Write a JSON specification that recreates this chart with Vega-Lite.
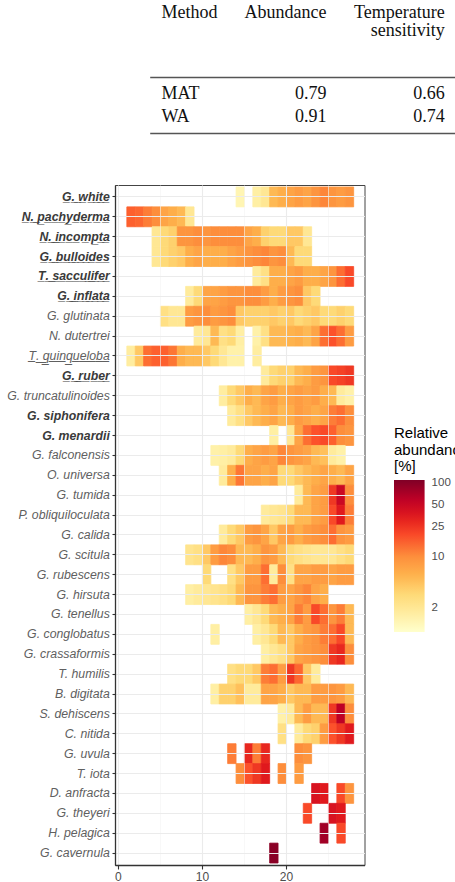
{
  "$schema": "https://vega.github.io/schema/vega-lite/v6.json",
  "padding": {"left": 3, "top": 3, "right": 0, "bottom": 0},
  "background": "white",
  "config": {"view": {"stroke": null}, "font": "Liberation Sans"},
  "spacing": 51,
  "vconcat": [
    {
      "width": 341.4,
      "height": 56,
      "data": {"values": [
        {"Method": "MAT", "Abundance": 0.79, "Temperature sensitivity": 0.66},
        {"Method": "WA", "Abundance": 0.91, "Temperature sensitivity": 0.74}
      ]},
      "transform": [{"fold": ["Method", "Abundance", "Temperature sensitivity"], "as": ["column", "cell"]}],
      "encoding": {
        "y": {"field": "Method", "type": "nominal", "scale": {"type": "point", "domain": ["MAT", "WA"], "padding": 0.667},
              "axis": {"title": null, "labels": false, "ticks": false, "domain": false, "grid": false, "minExtent": 110.6, "maxExtent": 110.6}}
      },
      "layer": [
        {
          "transform": [{"filter": "datum.column == 'Method'"}],
          "mark": {"type": "text", "align": "left", "baseline": "alphabetic", "dy": 5.5, "font": "Liberation Serif", "fontSize": 18, "color": "#111"},
          "encoding": {
            "x": {"field": "column", "type": "nominal", "bandPosition": 0,
                  "scale": {"type": "band", "domain": ["Method", "Abundance", "Temperature sensitivity"], "range": [34.7, 341.4], "paddingInner": 0.605, "paddingOuter": 0.099},
                  "axis": {"orient": "top", "title": null, "grid": false, "ticks": false, "tickSize": 0, "domain": true, "domainColor": "#555", "domainWidth": 1.6,
                           "labelFont": "Liberation Serif", "labelFontSize": 18, "labelColor": "#111", "labelPadding": 74, "labelBaseline": "top",
                           "labelLineHeight": 18, "labelLimit": 0, "labelOverlap": false, "labelBound": false, "labelFlush": false, "labelAngle": 0,
                           "labelAlign": {"condition": {"test": "datum.value == 'Method'", "value": "left"}, "value": "right"},
                           "labelOffset": {"condition": {"test": "datum.value == 'Method'", "value": -23.35}, "value": 23.35},
                           "labelExpr": "datum.value == 'Temperature sensitivity' ? ['Temperature', 'sensitivity'] : datum.value"}},
            "text": {"field": "cell", "type": "nominal"}
          }
        },
        {
          "transform": [{"filter": "datum.column != 'Method'"}],
          "mark": {"type": "text", "align": "right", "baseline": "alphabetic", "dy": 5.5, "font": "Liberation Serif", "fontSize": 18, "color": "#111"},
          "encoding": {
            "x": {"field": "column", "type": "nominal", "bandPosition": 1,
                  "scale": {"type": "band", "domain": ["Method", "Abundance", "Temperature sensitivity"], "range": [34.7, 341.4], "paddingInner": 0.605, "paddingOuter": 0.099},
                  "axis": {"orient": "bottom", "title": null, "grid": false, "ticks": false, "labels": false, "domain": true, "domainColor": "#555", "domainWidth": 1.6}},
            "text": {"field": "cell", "type": "quantitative", "format": ".2f"}
          }
        }
      ],
      "resolve": {"axis": {"x": "independent"}}
    },
    {
      "width": 249.5,
      "height": 680,
      "view": {"stroke": "#444", "strokeWidth": 1},
      "data": {"values": [
        {"species": "G. white", "temp": 14, "abundance": 1.3},
        {"species": "G. white", "temp": 16, "abundance": 1.6},
        {"species": "G. white", "temp": 17, "abundance": 2.0},
        {"species": "G. white", "temp": 18, "abundance": 5},
        {"species": "G. white", "temp": 19, "abundance": 6},
        {"species": "G. white", "temp": 20, "abundance": 7},
        {"species": "G. white", "temp": 21, "abundance": 8},
        {"species": "G. white", "temp": 22, "abundance": 7},
        {"species": "G. white", "temp": 23, "abundance": 9},
        {"species": "G. white", "temp": 24, "abundance": 11},
        {"species": "G. white", "temp": 25, "abundance": 9},
        {"species": "G. white", "temp": 26, "abundance": 8},
        {"species": "G. white", "temp": 27, "abundance": 9},
        {"species": "N. pachyderma", "temp": 1, "abundance": 16},
        {"species": "N. pachyderma", "temp": 2, "abundance": 15},
        {"species": "N. pachyderma", "temp": 3, "abundance": 12},
        {"species": "N. pachyderma", "temp": 4, "abundance": 10},
        {"species": "N. pachyderma", "temp": 5, "abundance": 7},
        {"species": "N. pachyderma", "temp": 6, "abundance": 6},
        {"species": "N. pachyderma", "temp": 7, "abundance": 5},
        {"species": "N. pachyderma", "temp": 8, "abundance": 2},
        {"species": "N. incompta", "temp": 4, "abundance": 2},
        {"species": "N. incompta", "temp": 5, "abundance": 3},
        {"species": "N. incompta", "temp": 6, "abundance": 3.5},
        {"species": "N. incompta", "temp": 7, "abundance": 9},
        {"species": "N. incompta", "temp": 8, "abundance": 9},
        {"species": "N. incompta", "temp": 9, "abundance": 10},
        {"species": "N. incompta", "temp": 10, "abundance": 9},
        {"species": "N. incompta", "temp": 11, "abundance": 10},
        {"species": "N. incompta", "temp": 12, "abundance": 10},
        {"species": "N. incompta", "temp": 13, "abundance": 10},
        {"species": "N. incompta", "temp": 14, "abundance": 10},
        {"species": "N. incompta", "temp": 15, "abundance": 7},
        {"species": "N. incompta", "temp": 16, "abundance": 6},
        {"species": "N. incompta", "temp": 17, "abundance": 3.5},
        {"species": "N. incompta", "temp": 18, "abundance": 3},
        {"species": "N. incompta", "temp": 19, "abundance": 3},
        {"species": "N. incompta", "temp": 20, "abundance": 4},
        {"species": "N. incompta", "temp": 21, "abundance": 4},
        {"species": "N. incompta", "temp": 22, "abundance": 2},
        {"species": "G. bulloides", "temp": 4, "abundance": 2},
        {"species": "G. bulloides", "temp": 5, "abundance": 3},
        {"species": "G. bulloides", "temp": 6, "abundance": 3.5},
        {"species": "G. bulloides", "temp": 7, "abundance": 4},
        {"species": "G. bulloides", "temp": 8, "abundance": 6},
        {"species": "G. bulloides", "temp": 9, "abundance": 7},
        {"species": "G. bulloides", "temp": 10, "abundance": 6},
        {"species": "G. bulloides", "temp": 11, "abundance": 6},
        {"species": "G. bulloides", "temp": 12, "abundance": 6},
        {"species": "G. bulloides", "temp": 13, "abundance": 7},
        {"species": "G. bulloides", "temp": 14, "abundance": 8},
        {"species": "G. bulloides", "temp": 15, "abundance": 9},
        {"species": "G. bulloides", "temp": 16, "abundance": 10},
        {"species": "G. bulloides", "temp": 17, "abundance": 11},
        {"species": "G. bulloides", "temp": 18, "abundance": 9},
        {"species": "G. bulloides", "temp": 19, "abundance": 10},
        {"species": "G. bulloides", "temp": 20, "abundance": 5},
        {"species": "G. bulloides", "temp": 21, "abundance": 3},
        {"species": "G. bulloides", "temp": 22, "abundance": 3},
        {"species": "T. sacculifer", "temp": 16, "abundance": 1.8},
        {"species": "T. sacculifer", "temp": 17, "abundance": 2.5},
        {"species": "T. sacculifer", "temp": 18, "abundance": 6},
        {"species": "T. sacculifer", "temp": 19, "abundance": 6},
        {"species": "T. sacculifer", "temp": 20, "abundance": 7},
        {"species": "T. sacculifer", "temp": 21, "abundance": 8},
        {"species": "T. sacculifer", "temp": 22, "abundance": 6},
        {"species": "T. sacculifer", "temp": 23, "abundance": 6},
        {"species": "T. sacculifer", "temp": 24, "abundance": 7},
        {"species": "T. sacculifer", "temp": 25, "abundance": 9},
        {"species": "T. sacculifer", "temp": 26, "abundance": 14},
        {"species": "T. sacculifer", "temp": 27, "abundance": 20},
        {"species": "G. inflata", "temp": 8, "abundance": 1.8},
        {"species": "G. inflata", "temp": 9, "abundance": 3},
        {"species": "G. inflata", "temp": 10, "abundance": 7},
        {"species": "G. inflata", "temp": 11, "abundance": 7},
        {"species": "G. inflata", "temp": 12, "abundance": 8},
        {"species": "G. inflata", "temp": 13, "abundance": 9},
        {"species": "G. inflata", "temp": 14, "abundance": 9},
        {"species": "G. inflata", "temp": 15, "abundance": 10},
        {"species": "G. inflata", "temp": 16, "abundance": 10},
        {"species": "G. inflata", "temp": 17, "abundance": 8},
        {"species": "G. inflata", "temp": 18, "abundance": 6},
        {"species": "G. inflata", "temp": 19, "abundance": 8},
        {"species": "G. inflata", "temp": 20, "abundance": 9},
        {"species": "G. inflata", "temp": 21, "abundance": 10},
        {"species": "G. inflata", "temp": 22, "abundance": 4},
        {"species": "G. inflata", "temp": 23, "abundance": 3},
        {"species": "G. glutinata", "temp": 5, "abundance": 2.5},
        {"species": "G. glutinata", "temp": 6, "abundance": 2},
        {"species": "G. glutinata", "temp": 7, "abundance": 2},
        {"species": "G. glutinata", "temp": 8, "abundance": 8},
        {"species": "G. glutinata", "temp": 9, "abundance": 9},
        {"species": "G. glutinata", "temp": 10, "abundance": 10},
        {"species": "G. glutinata", "temp": 11, "abundance": 8},
        {"species": "G. glutinata", "temp": 12, "abundance": 9},
        {"species": "G. glutinata", "temp": 13, "abundance": 10},
        {"species": "G. glutinata", "temp": 14, "abundance": 4},
        {"species": "G. glutinata", "temp": 15, "abundance": 3.5},
        {"species": "G. glutinata", "temp": 16, "abundance": 3.5},
        {"species": "G. glutinata", "temp": 17, "abundance": 3.5},
        {"species": "G. glutinata", "temp": 18, "abundance": 4},
        {"species": "G. glutinata", "temp": 19, "abundance": 3.5},
        {"species": "G. glutinata", "temp": 20, "abundance": 4},
        {"species": "G. glutinata", "temp": 21, "abundance": 3},
        {"species": "G. glutinata", "temp": 22, "abundance": 3.5},
        {"species": "G. glutinata", "temp": 23, "abundance": 4},
        {"species": "G. glutinata", "temp": 24, "abundance": 3},
        {"species": "G. glutinata", "temp": 25, "abundance": 3},
        {"species": "G. glutinata", "temp": 26, "abundance": 3.5},
        {"species": "G. glutinata", "temp": 27, "abundance": 3},
        {"species": "N. dutertrei", "temp": 9, "abundance": 1.8},
        {"species": "N. dutertrei", "temp": 10, "abundance": 2},
        {"species": "N. dutertrei", "temp": 11, "abundance": 5},
        {"species": "N. dutertrei", "temp": 12, "abundance": 2.5},
        {"species": "N. dutertrei", "temp": 13, "abundance": 3},
        {"species": "N. dutertrei", "temp": 14, "abundance": 1.6},
        {"species": "N. dutertrei", "temp": 16, "abundance": 1.5},
        {"species": "N. dutertrei", "temp": 17, "abundance": 2.5},
        {"species": "N. dutertrei", "temp": 18, "abundance": 5},
        {"species": "N. dutertrei", "temp": 19, "abundance": 5},
        {"species": "N. dutertrei", "temp": 20, "abundance": 5.5},
        {"species": "N. dutertrei", "temp": 21, "abundance": 6},
        {"species": "N. dutertrei", "temp": 22, "abundance": 5},
        {"species": "N. dutertrei", "temp": 23, "abundance": 7},
        {"species": "N. dutertrei", "temp": 24, "abundance": 14},
        {"species": "N. dutertrei", "temp": 25, "abundance": 18},
        {"species": "N. dutertrei", "temp": 26, "abundance": 14},
        {"species": "N. dutertrei", "temp": 27, "abundance": 8},
        {"species": "T. quinqueloba", "temp": 1, "abundance": 1.7},
        {"species": "T. quinqueloba", "temp": 2, "abundance": 4},
        {"species": "T. quinqueloba", "temp": 3, "abundance": 14},
        {"species": "T. quinqueloba", "temp": 4, "abundance": 16},
        {"species": "T. quinqueloba", "temp": 5, "abundance": 16},
        {"species": "T. quinqueloba", "temp": 6, "abundance": 13},
        {"species": "T. quinqueloba", "temp": 7, "abundance": 6},
        {"species": "T. quinqueloba", "temp": 8, "abundance": 5},
        {"species": "T. quinqueloba", "temp": 9, "abundance": 5},
        {"species": "T. quinqueloba", "temp": 10, "abundance": 4},
        {"species": "T. quinqueloba", "temp": 11, "abundance": 3},
        {"species": "T. quinqueloba", "temp": 12, "abundance": 2},
        {"species": "T. quinqueloba", "temp": 13, "abundance": 1.5},
        {"species": "T. quinqueloba", "temp": 14, "abundance": 1.5},
        {"species": "T. quinqueloba", "temp": 16, "abundance": 1.7},
        {"species": "G. ruber", "temp": 17, "abundance": 1.8},
        {"species": "G. ruber", "temp": 18, "abundance": 3},
        {"species": "G. ruber", "temp": 19, "abundance": 3.5},
        {"species": "G. ruber", "temp": 20, "abundance": 3.5},
        {"species": "G. ruber", "temp": 21, "abundance": 5},
        {"species": "G. ruber", "temp": 22, "abundance": 6},
        {"species": "G. ruber", "temp": 23, "abundance": 8},
        {"species": "G. ruber", "temp": 24, "abundance": 9},
        {"species": "G. ruber", "temp": 25, "abundance": 20},
        {"species": "G. ruber", "temp": 26, "abundance": 22},
        {"species": "G. ruber", "temp": 27, "abundance": 25},
        {"species": "G. truncatulinoides", "temp": 12, "abundance": 1.7},
        {"species": "G. truncatulinoides", "temp": 13, "abundance": 3},
        {"species": "G. truncatulinoides", "temp": 14, "abundance": 4},
        {"species": "G. truncatulinoides", "temp": 15, "abundance": 6},
        {"species": "G. truncatulinoides", "temp": 16, "abundance": 5},
        {"species": "G. truncatulinoides", "temp": 17, "abundance": 7},
        {"species": "G. truncatulinoides", "temp": 18, "abundance": 8},
        {"species": "G. truncatulinoides", "temp": 19, "abundance": 6},
        {"species": "G. truncatulinoides", "temp": 20, "abundance": 7},
        {"species": "G. truncatulinoides", "temp": 21, "abundance": 8},
        {"species": "G. truncatulinoides", "temp": 22, "abundance": 7},
        {"species": "G. truncatulinoides", "temp": 23, "abundance": 8},
        {"species": "G. truncatulinoides", "temp": 24, "abundance": 6},
        {"species": "G. truncatulinoides", "temp": 25, "abundance": 5},
        {"species": "G. truncatulinoides", "temp": 26, "abundance": 1.8},
        {"species": "G. truncatulinoides", "temp": 27, "abundance": 1.5},
        {"species": "G. siphonifera", "temp": 13, "abundance": 1.8},
        {"species": "G. siphonifera", "temp": 14, "abundance": 2.5},
        {"species": "G. siphonifera", "temp": 15, "abundance": 4},
        {"species": "G. siphonifera", "temp": 16, "abundance": 5},
        {"species": "G. siphonifera", "temp": 17, "abundance": 6},
        {"species": "G. siphonifera", "temp": 18, "abundance": 7},
        {"species": "G. siphonifera", "temp": 19, "abundance": 5},
        {"species": "G. siphonifera", "temp": 20, "abundance": 6},
        {"species": "G. siphonifera", "temp": 21, "abundance": 8},
        {"species": "G. siphonifera", "temp": 22, "abundance": 7},
        {"species": "G. siphonifera", "temp": 23, "abundance": 6},
        {"species": "G. siphonifera", "temp": 24, "abundance": 7},
        {"species": "G. siphonifera", "temp": 25, "abundance": 12},
        {"species": "G. siphonifera", "temp": 26, "abundance": 14},
        {"species": "G. siphonifera", "temp": 27, "abundance": 10},
        {"species": "G. menardii", "temp": 18, "abundance": 1.6},
        {"species": "G. menardii", "temp": 20, "abundance": 2},
        {"species": "G. menardii", "temp": 21, "abundance": 7},
        {"species": "G. menardii", "temp": 22, "abundance": 14},
        {"species": "G. menardii", "temp": 23, "abundance": 18},
        {"species": "G. menardii", "temp": 24, "abundance": 20},
        {"species": "G. menardii", "temp": 25, "abundance": 16},
        {"species": "G. menardii", "temp": 26, "abundance": 10},
        {"species": "G. menardii", "temp": 27, "abundance": 9},
        {"species": "G. falconensis", "temp": 11, "abundance": 1.5},
        {"species": "G. falconensis", "temp": 12, "abundance": 1.6},
        {"species": "G. falconensis", "temp": 13, "abundance": 1.8},
        {"species": "G. falconensis", "temp": 14, "abundance": 3},
        {"species": "G. falconensis", "temp": 15, "abundance": 6},
        {"species": "G. falconensis", "temp": 16, "abundance": 7},
        {"species": "G. falconensis", "temp": 17, "abundance": 8},
        {"species": "G. falconensis", "temp": 18, "abundance": 7},
        {"species": "G. falconensis", "temp": 19, "abundance": 11},
        {"species": "G. falconensis", "temp": 20, "abundance": 9},
        {"species": "G. falconensis", "temp": 21, "abundance": 8},
        {"species": "G. falconensis", "temp": 22, "abundance": 7},
        {"species": "G. falconensis", "temp": 23, "abundance": 5},
        {"species": "G. falconensis", "temp": 24, "abundance": 4.5},
        {"species": "G. falconensis", "temp": 25, "abundance": 1.8},
        {"species": "G. falconensis", "temp": 26, "abundance": 1.5},
        {"species": "O. universa", "temp": 12, "abundance": 1.8},
        {"species": "O. universa", "temp": 13, "abundance": 6},
        {"species": "O. universa", "temp": 14, "abundance": 13},
        {"species": "O. universa", "temp": 15, "abundance": 7},
        {"species": "O. universa", "temp": 16, "abundance": 7},
        {"species": "O. universa", "temp": 17, "abundance": 6},
        {"species": "O. universa", "temp": 18, "abundance": 7},
        {"species": "O. universa", "temp": 19, "abundance": 3},
        {"species": "O. universa", "temp": 20, "abundance": 3},
        {"species": "O. universa", "temp": 21, "abundance": 4},
        {"species": "O. universa", "temp": 22, "abundance": 5},
        {"species": "O. universa", "temp": 23, "abundance": 6},
        {"species": "O. universa", "temp": 24, "abundance": 7},
        {"species": "O. universa", "temp": 25, "abundance": 6},
        {"species": "O. universa", "temp": 26, "abundance": 5},
        {"species": "O. universa", "temp": 27, "abundance": 7},
        {"species": "G. tumida", "temp": 21, "abundance": 1.8},
        {"species": "G. tumida", "temp": 22, "abundance": 5},
        {"species": "G. tumida", "temp": 23, "abundance": 7},
        {"species": "G. tumida", "temp": 24, "abundance": 8},
        {"species": "G. tumida", "temp": 25, "abundance": 25},
        {"species": "G. tumida", "temp": 26, "abundance": 50},
        {"species": "G. tumida", "temp": 27, "abundance": 10},
        {"species": "P. obliquiloculata", "temp": 17, "abundance": 1.8},
        {"species": "P. obliquiloculata", "temp": 18, "abundance": 2},
        {"species": "P. obliquiloculata", "temp": 19, "abundance": 2.2},
        {"species": "P. obliquiloculata", "temp": 20, "abundance": 3},
        {"species": "P. obliquiloculata", "temp": 21, "abundance": 5},
        {"species": "P. obliquiloculata", "temp": 22, "abundance": 5},
        {"species": "P. obliquiloculata", "temp": 23, "abundance": 7},
        {"species": "P. obliquiloculata", "temp": 24, "abundance": 8},
        {"species": "P. obliquiloculata", "temp": 25, "abundance": 20},
        {"species": "P. obliquiloculata", "temp": 26, "abundance": 35},
        {"species": "P. obliquiloculata", "temp": 27, "abundance": 12},
        {"species": "G. calida", "temp": 12, "abundance": 1.8},
        {"species": "G. calida", "temp": 13, "abundance": 3},
        {"species": "G. calida", "temp": 14, "abundance": 4},
        {"species": "G. calida", "temp": 15, "abundance": 8},
        {"species": "G. calida", "temp": 16, "abundance": 9},
        {"species": "G. calida", "temp": 17, "abundance": 7},
        {"species": "G. calida", "temp": 18, "abundance": 4},
        {"species": "G. calida", "temp": 19, "abundance": 7},
        {"species": "G. calida", "temp": 20, "abundance": 8},
        {"species": "G. calida", "temp": 21, "abundance": 6},
        {"species": "G. calida", "temp": 22, "abundance": 8},
        {"species": "G. calida", "temp": 23, "abundance": 9},
        {"species": "G. calida", "temp": 24, "abundance": 10},
        {"species": "G. calida", "temp": 25, "abundance": 14},
        {"species": "G. calida", "temp": 26, "abundance": 9},
        {"species": "G. calida", "temp": 27, "abundance": 8},
        {"species": "G. scitula", "temp": 8, "abundance": 2.2},
        {"species": "G. scitula", "temp": 9, "abundance": 2.5},
        {"species": "G. scitula", "temp": 10, "abundance": 4},
        {"species": "G. scitula", "temp": 11, "abundance": 8},
        {"species": "G. scitula", "temp": 12, "abundance": 11},
        {"species": "G. scitula", "temp": 13, "abundance": 10},
        {"species": "G. scitula", "temp": 14, "abundance": 5},
        {"species": "G. scitula", "temp": 15, "abundance": 5},
        {"species": "G. scitula", "temp": 16, "abundance": 6},
        {"species": "G. scitula", "temp": 17, "abundance": 9},
        {"species": "G. scitula", "temp": 18, "abundance": 8},
        {"species": "G. scitula", "temp": 19, "abundance": 5},
        {"species": "G. scitula", "temp": 20, "abundance": 3},
        {"species": "G. scitula", "temp": 21, "abundance": 2.5},
        {"species": "G. scitula", "temp": 22, "abundance": 2.2},
        {"species": "G. scitula", "temp": 23, "abundance": 2},
        {"species": "G. scitula", "temp": 24, "abundance": 2},
        {"species": "G. scitula", "temp": 25, "abundance": 2},
        {"species": "G. scitula", "temp": 26, "abundance": 2.5},
        {"species": "G. scitula", "temp": 27, "abundance": 3},
        {"species": "G. rubescens", "temp": 10, "abundance": 3},
        {"species": "G. rubescens", "temp": 13, "abundance": 2.5},
        {"species": "G. rubescens", "temp": 14, "abundance": 4},
        {"species": "G. rubescens", "temp": 15, "abundance": 8},
        {"species": "G. rubescens", "temp": 16, "abundance": 8},
        {"species": "G. rubescens", "temp": 17, "abundance": 14},
        {"species": "G. rubescens", "temp": 18, "abundance": 1.8},
        {"species": "G. rubescens", "temp": 19, "abundance": 10},
        {"species": "G. rubescens", "temp": 20, "abundance": 2.5},
        {"species": "G. rubescens", "temp": 21, "abundance": 7},
        {"species": "G. rubescens", "temp": 22, "abundance": 7},
        {"species": "G. rubescens", "temp": 23, "abundance": 8},
        {"species": "G. rubescens", "temp": 24, "abundance": 8},
        {"species": "G. rubescens", "temp": 25, "abundance": 7},
        {"species": "G. rubescens", "temp": 26, "abundance": 8},
        {"species": "G. rubescens", "temp": 27, "abundance": 8},
        {"species": "G. hirsuta", "temp": 8, "abundance": 1.6},
        {"species": "G. hirsuta", "temp": 9, "abundance": 1.8},
        {"species": "G. hirsuta", "temp": 10, "abundance": 2},
        {"species": "G. hirsuta", "temp": 11, "abundance": 2.2},
        {"species": "G. hirsuta", "temp": 12, "abundance": 2.5},
        {"species": "G. hirsuta", "temp": 13, "abundance": 3},
        {"species": "G. hirsuta", "temp": 14, "abundance": 5},
        {"species": "G. hirsuta", "temp": 15, "abundance": 9},
        {"species": "G. hirsuta", "temp": 16, "abundance": 9},
        {"species": "G. hirsuta", "temp": 17, "abundance": 12},
        {"species": "G. hirsuta", "temp": 18, "abundance": 14},
        {"species": "G. hirsuta", "temp": 19, "abundance": 8},
        {"species": "G. hirsuta", "temp": 20, "abundance": 7},
        {"species": "G. hirsuta", "temp": 21, "abundance": 9},
        {"species": "G. hirsuta", "temp": 22, "abundance": 11},
        {"species": "G. hirsuta", "temp": 23, "abundance": 7},
        {"species": "G. hirsuta", "temp": 24, "abundance": 6},
        {"species": "G. tenellus", "temp": 15, "abundance": 1.6},
        {"species": "G. tenellus", "temp": 16, "abundance": 2},
        {"species": "G. tenellus", "temp": 17, "abundance": 3},
        {"species": "G. tenellus", "temp": 18, "abundance": 5},
        {"species": "G. tenellus", "temp": 19, "abundance": 6},
        {"species": "G. tenellus", "temp": 20, "abundance": 7},
        {"species": "G. tenellus", "temp": 21, "abundance": 12},
        {"species": "G. tenellus", "temp": 22, "abundance": 8},
        {"species": "G. tenellus", "temp": 23, "abundance": 20},
        {"species": "G. tenellus", "temp": 24, "abundance": 14},
        {"species": "G. tenellus", "temp": 25, "abundance": 9},
        {"species": "G. tenellus", "temp": 26, "abundance": 12},
        {"species": "G. tenellus", "temp": 27, "abundance": 5},
        {"species": "G. conglobatus", "temp": 11, "abundance": 1.6},
        {"species": "G. conglobatus", "temp": 16, "abundance": 1.6},
        {"species": "G. conglobatus", "temp": 17, "abundance": 2},
        {"species": "G. conglobatus", "temp": 18, "abundance": 3},
        {"species": "G. conglobatus", "temp": 19, "abundance": 5},
        {"species": "G. conglobatus", "temp": 20, "abundance": 4},
        {"species": "G. conglobatus", "temp": 21, "abundance": 6},
        {"species": "G. conglobatus", "temp": 22, "abundance": 8},
        {"species": "G. conglobatus", "temp": 23, "abundance": 9},
        {"species": "G. conglobatus", "temp": 24, "abundance": 12},
        {"species": "G. conglobatus", "temp": 25, "abundance": 14},
        {"species": "G. conglobatus", "temp": 26, "abundance": 20},
        {"species": "G. conglobatus", "temp": 27, "abundance": 5},
        {"species": "G. crassaformis", "temp": 17, "abundance": 1.6},
        {"species": "G. crassaformis", "temp": 18, "abundance": 2},
        {"species": "G. crassaformis", "temp": 19, "abundance": 2.5},
        {"species": "G. crassaformis", "temp": 20, "abundance": 4},
        {"species": "G. crassaformis", "temp": 21, "abundance": 7},
        {"species": "G. crassaformis", "temp": 22, "abundance": 8},
        {"species": "G. crassaformis", "temp": 23, "abundance": 9},
        {"species": "G. crassaformis", "temp": 24, "abundance": 10},
        {"species": "G. crassaformis", "temp": 25, "abundance": 25},
        {"species": "G. crassaformis", "temp": 26, "abundance": 30},
        {"species": "G. crassaformis", "temp": 27, "abundance": 10},
        {"species": "T. humilis", "temp": 13, "abundance": 2.5},
        {"species": "T. humilis", "temp": 14, "abundance": 3},
        {"species": "T. humilis", "temp": 15, "abundance": 3},
        {"species": "T. humilis", "temp": 16, "abundance": 4},
        {"species": "T. humilis", "temp": 17, "abundance": 12},
        {"species": "T. humilis", "temp": 18, "abundance": 14},
        {"species": "T. humilis", "temp": 19, "abundance": 8},
        {"species": "T. humilis", "temp": 20, "abundance": 25},
        {"species": "T. humilis", "temp": 21, "abundance": 15},
        {"species": "T. humilis", "temp": 22, "abundance": 4},
        {"species": "T. humilis", "temp": 23, "abundance": 1.8},
        {"species": "B. digitata", "temp": 11, "abundance": 1.6},
        {"species": "B. digitata", "temp": 12, "abundance": 3.5},
        {"species": "B. digitata", "temp": 13, "abundance": 3.5},
        {"species": "B. digitata", "temp": 14, "abundance": 4.5},
        {"species": "B. digitata", "temp": 15, "abundance": 1.8},
        {"species": "B. digitata", "temp": 16, "abundance": 1.8},
        {"species": "B. digitata", "temp": 17, "abundance": 7},
        {"species": "B. digitata", "temp": 18, "abundance": 7},
        {"species": "B. digitata", "temp": 19, "abundance": 6},
        {"species": "B. digitata", "temp": 20, "abundance": 4},
        {"species": "B. digitata", "temp": 21, "abundance": 5},
        {"species": "B. digitata", "temp": 22, "abundance": 5},
        {"species": "B. digitata", "temp": 23, "abundance": 8},
        {"species": "B. digitata", "temp": 24, "abundance": 8},
        {"species": "B. digitata", "temp": 25, "abundance": 9},
        {"species": "B. digitata", "temp": 26, "abundance": 8},
        {"species": "B. digitata", "temp": 27, "abundance": 5},
        {"species": "S. dehiscens", "temp": 19, "abundance": 1.5},
        {"species": "S. dehiscens", "temp": 20, "abundance": 1.8},
        {"species": "S. dehiscens", "temp": 21, "abundance": 5},
        {"species": "S. dehiscens", "temp": 22, "abundance": 8},
        {"species": "S. dehiscens", "temp": 23, "abundance": 5},
        {"species": "S. dehiscens", "temp": 24, "abundance": 5},
        {"species": "S. dehiscens", "temp": 25, "abundance": 25},
        {"species": "S. dehiscens", "temp": 26, "abundance": 60},
        {"species": "S. dehiscens", "temp": 27, "abundance": 10},
        {"species": "C. nitida", "temp": 19, "abundance": 2.5},
        {"species": "C. nitida", "temp": 21, "abundance": 1.8},
        {"species": "C. nitida", "temp": 22, "abundance": 3},
        {"species": "C. nitida", "temp": 23, "abundance": 3.5},
        {"species": "C. nitida", "temp": 24, "abundance": 8},
        {"species": "C. nitida", "temp": 25, "abundance": 18},
        {"species": "C. nitida", "temp": 26, "abundance": 25},
        {"species": "C. nitida", "temp": 27, "abundance": 35},
        {"species": "G. uvula", "temp": 13, "abundance": 12},
        {"species": "G. uvula", "temp": 15, "abundance": 30},
        {"species": "G. uvula", "temp": 16, "abundance": 12},
        {"species": "G. uvula", "temp": 17, "abundance": 30},
        {"species": "G. uvula", "temp": 21, "abundance": 10},
        {"species": "G. uvula", "temp": 22, "abundance": 9},
        {"species": "T. iota", "temp": 14, "abundance": 10},
        {"species": "T. iota", "temp": 15, "abundance": 18},
        {"species": "T. iota", "temp": 16, "abundance": 25},
        {"species": "T. iota", "temp": 17, "abundance": 35},
        {"species": "T. iota", "temp": 19, "abundance": 10},
        {"species": "T. iota", "temp": 21, "abundance": 8},
        {"species": "D. anfracta", "temp": 23, "abundance": 40},
        {"species": "D. anfracta", "temp": 24, "abundance": 35},
        {"species": "D. anfracta", "temp": 26, "abundance": 20},
        {"species": "D. anfracta", "temp": 27, "abundance": 9},
        {"species": "G. theyeri", "temp": 22, "abundance": 20},
        {"species": "G. theyeri", "temp": 25, "abundance": 40},
        {"species": "G. theyeri", "temp": 26, "abundance": 35},
        {"species": "H. pelagica", "temp": 24, "abundance": 80},
        {"species": "H. pelagica", "temp": 26, "abundance": 20},
        {"species": "G. cavernula", "temp": 18, "abundance": 100}
      ]},
      "mark": {"type": "rect", "binSpacing": 0, "strokeWidth": 0.8, "stroke": {"expr": "scale('color', datum.abundance)"}},
      "encoding": {
        "x": {"field": "temp", "type": "quantitative", "bin": {"binned": true, "step": 1},
              "scale": {"domain": [-0.35, 29.35], "nice": false, "zero": false},
              "axis": {"title": null, "values": [0, 5, 10, 15, 20, 25], "labelExpr": "datum.value % 10 === 0 ? datum.label : ''",
                       "grid": true, "gridColor": {"condition": {"test": "datum.value % 10 === 0", "value": "#ebebeb"}, "value": "#f4f4f4"},
                       "gridWidth": {"condition": {"test": "datum.value % 10 === 0", "value": 1.1}, "value": 0.6},
                       "tickColor": {"condition": {"test": "datum.value % 10 === 0", "value": "#333"}, "value": "transparent"},
                       "tickSize": 4, "tickWidth": 1.1, "labelFontSize": 12, "labelColor": "#4d4d4d", "labelFont": "Liberation Sans",
                       "labelPadding": 2, "labelFlush": false, "domainColor": "#333", "domainWidth": 1.3}},
        "y": {"field": "species", "type": "nominal",
              "scale": {"domain": ["G. white", "N. pachyderma", "N. incompta", "G. bulloides", "T. sacculifer", "G. inflata", "G. glutinata", "N. dutertrei", "T. quinqueloba", "G. ruber", "G. truncatulinoides", "G. siphonifera", "G. menardii", "G. falconensis", "O. universa", "G. tumida", "P. obliquiloculata", "G. calida", "G. scitula", "G. rubescens", "G. hirsuta", "G. tenellus", "G. conglobatus", "G. crassaformis", "T. humilis", "B. digitata", "S. dehiscens", "C. nitida", "G. uvula", "T. iota", "D. anfracta", "G. theyeri", "H. pelagica", "G. cavernula"],
                        "paddingInner": 0, "paddingOuter": 0.1},
              "axis": {"title": null, "grid": true, "gridColor": "#ebebeb", "gridWidth": 1, "tickSize": 3, "tickColor": "#333", "tickWidth": 1.1,
                       "domainColor": "#333", "domainWidth": 1.3, "labelFont": "Liberation Sans", "labelFontSize": 12.3, "labelFontStyle": "italic",
                       "labelPadding": 2.7, "labelLimit": 0, "minExtent": 110.6, "maxExtent": 110.6,
                       "labelExpr": "indexof(['G. white','N. pachyderma','N. incompta','G. bulloides','T. sacculifer','G. inflata','T. quinqueloba','G. ruber'], datum.value) >= 0 ? replace(datum.value, regexp('(.)', 'g'), '$1\u0332') : datum.value",
                       "labelFontWeight": {"condition": {"test": "indexof(['G. white','N. pachyderma','N. incompta','G. bulloides','T. sacculifer','G. inflata','G. ruber','G. siphonifera','G. menardii'], datum.value) >= 0", "value": "bold"}, "value": "normal"},
                       "labelColor": {"condition": {"test": "indexof(['G. white','N. pachyderma','N. incompta','G. bulloides','T. sacculifer','G. inflata','G. ruber','G. siphonifera','G. menardii'], datum.value) >= 0", "value": "#3a3a3a"}, "value": "#606060"}}},
        "color": {"field": "abundance", "type": "quantitative",
                  "scale": {"type": "log", "domain": [0.93, 111], "interpolate": "lab",
                            "range": ["#ffffcc", "#ffeda0", "#fed976", "#feb24c", "#fd8d3c", "#fc4e2a", "#e31a1c", "#bd0026", "#800026"]},
                  "legend": {"type": "gradient", "title": ["Relative", "abundance", "[%]"], "orient": "none", "legendX": 279, "legendY": 349, "direction": "vertical",
                             "values": [2, 10, 25, 50, 100], "gradientLength": 152, "gradientThickness": 30.6, "gradientStrokeWidth": 0,
                             "titleFont": "Liberation Sans", "titleFontSize": 15, "titleFontWeight": "normal", "titleColor": "#000", "titleLineHeight": 16.5, "titlePadding": 6,
                             "labelFont": "Liberation Sans", "labelFontSize": 11.5, "labelColor": "#4d4d4d", "labelOffset": 7, "labelOverlap": false}}
      }
    }
  ]
}
